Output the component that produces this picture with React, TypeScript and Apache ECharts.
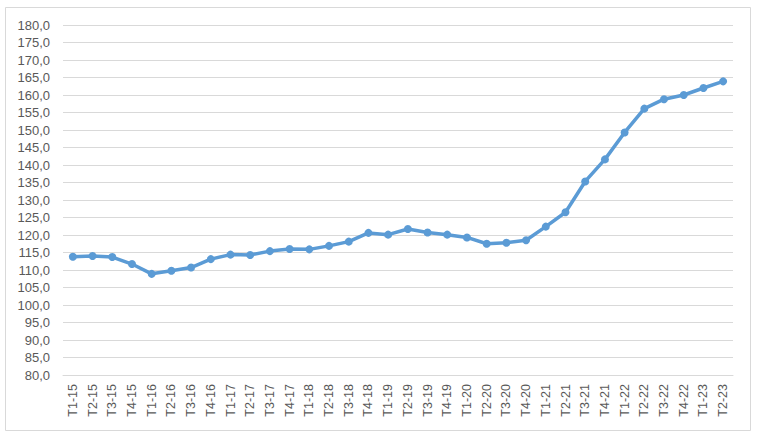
import React, { useEffect, useRef } from 'react';
import * as echarts from 'echarts';

const quarters = [
  'T1-15', 'T2-15', 'T3-15', 'T4-15',
  'T1-16', 'T2-16', 'T3-16', 'T4-16',
  'T1-17', 'T2-17', 'T3-17', 'T4-17',
  'T1-18', 'T2-18', 'T3-18', 'T4-18',
  'T1-19', 'T2-19', 'T3-19', 'T4-19',
  'T1-20', 'T2-20', 'T3-20', 'T4-20',
  'T1-21', 'T2-21', 'T3-21', 'T4-21',
  'T1-22', 'T2-22', 'T3-22', 'T4-22',
  'T1-23', 'T2-23',
];

const indexValues = [
  113.8, 114.0, 113.7, 111.7,
  108.9, 109.8, 110.7, 113.1,
  114.4, 114.3, 115.4, 116.0,
  115.9, 116.9, 118.1, 120.6,
  120.1, 121.7, 120.7, 120.1,
  119.3, 117.5, 117.8, 118.5,
  122.4, 126.5, 135.3, 141.6,
  149.3, 156.1, 158.8, 160.0,
  162.0, 163.9,
];

const yMin = 80;
const yMax = 180;
const yStep = 5;

const App: React.FC = () => {
  const chartRef = useRef<HTMLDivElement>(null);

  useEffect(() => {
    if (!chartRef.current) return;
    const chart = echarts.init(chartRef.current, undefined, { renderer: 'svg' });

    const option = {
      animation: false,
      backgroundColor: '#fff',
      textStyle: { fontFamily: 'Liberation Sans' },
      graphic: [
        {
          type: 'rect',
          shape: { x: 5.5, y: 7.5, width: 745, height: 423 },
          style: { fill: 'none', stroke: '#d9d9d9', lineWidth: 1 },
          silent: true,
        },
      ],
      grid: { left: 63, right: 25, top: 25, bottom: 62 },
      xAxis: {
        type: 'category',
        data: quarters,
        boundaryGap: true,
        axisLine: { lineStyle: { color: '#d9d9d9' } },
        axisTick: { show: false },
        axisLabel: {
          rotate: 90,
          interval: 0,
          margin: 9,
          color: '#595959',
          fontSize: 12.5,
        },
      },
      yAxis: {
        type: 'value',
        min: yMin,
        max: yMax,
        interval: yStep,
        axisLine: { show: false },
        axisTick: { show: false },
        splitLine: { lineStyle: { color: '#d9d9d9' } },
        axisLabel: {
          margin: 13,
          color: '#595959',
          fontSize: 13,
          formatter: (v: number) => v.toFixed(1).replace('.', ','),
        },
      },
      series: [
        {
          name: 'Index',
          type: 'line',
          data: indexValues,
          symbol: 'circle',
          symbolSize: 8,
          itemStyle: { color: '#5b9bd5' },
          lineStyle: { color: '#5b9bd5', width: 3.5 },
        },
      ],
    };

    chart.setOption(option);
    return () => {
      chart.dispose();
    };
  }, []);

  return (
    <div
      ref={chartRef}
      style={{ position: 'fixed', left: 0, top: 0, width: '758px', height: '437px' }}
    />
  );
};

export default App;
